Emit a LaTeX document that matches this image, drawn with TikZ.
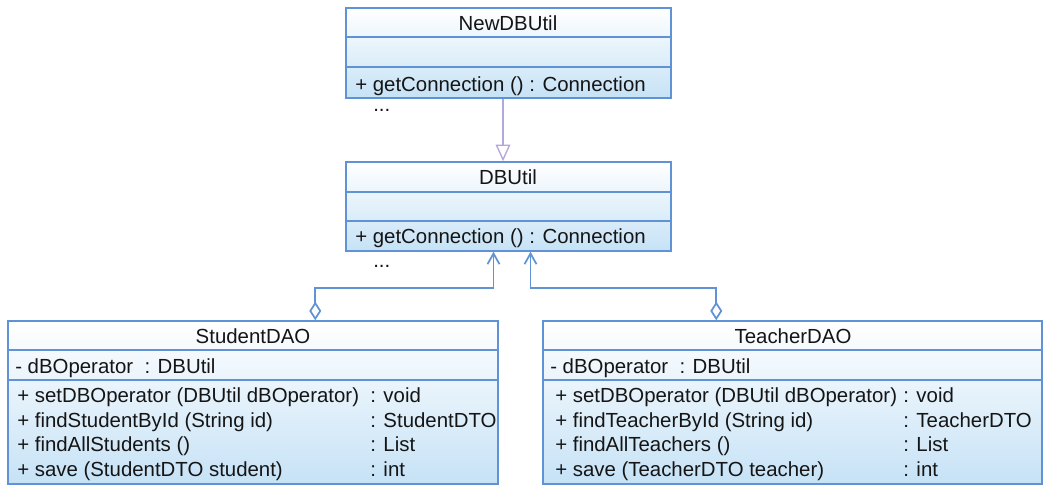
\documentclass[tikz,border=0pt]{standalone}
\usepackage{fontspec}
\setmainfont{Liberation Sans}
\usetikzlibrary{arrows.meta, positioning, fit, calc}
\definecolor{umlEdge}{HTML}{5F93D6}
\definecolor{umlFill}{HTML}{C6E2F6}
\definecolor{umlGen}{HTML}{B3A7DE}
\definecolor{umlInk}{HTML}{151515}

\begin{document}
\begin{tikzpicture}[
  x=0.75pt, y=-0.75pt,
  font=\fontsize{15.3}{18}\selectfont,
  cls/.style={draw=umlEdge, line width=1.1pt, top color=white, bottom color=umlFill, inner sep=0pt},
  divider/.style={draw=umlEdge, line width=1.1pt},
  ttl/.style={text=umlInk, inner sep=0pt, anchor=base},
  mem/.style={text=umlInk, inner sep=0pt, anchor=base west},
  gen/.style={draw=umlGen, line width=1pt, -{Triangle[open, fill=white, length=12.5pt, width=11pt]}},
  agg/.style={draw=umlEdge, line width=1.3pt,
    {Diamond[open, fill=white, length=14pt, width=9pt]}-{Straight Barb[length=8pt, width=9pt]}},
]
\fill[white] (0,0) rectangle (1056,492);
\useasboundingbox (0,0) rectangle (1056,492);

% ============================== NewDBUtil ====================================
\node[cls, fit={(346,8) (671,98)}] (newdb) {};
\draw[divider] (346,37) -- (671,37);
\draw[divider] (346,67) -- (671,67);
\node[ttl] (newdbname) at (508,31) {NewDBUtil};
\node[mem] (newdbop) at (355,91) {+ getConnection () : Connection};
\node[mem] (newdbmore) at (373,112) {...};

% =============================== DBUtil ======================================
\node[cls, fit={(346,162) (671,251)}] (dbutil) {};
\draw[divider] (346,192) -- (671,192);
\draw[divider] (346,221) -- (671,221);
\node[ttl] (dbutilname) at (508,184) {DBUtil};
\node[mem] (dbutilop) at (355,243) {+ getConnection () : Connection};
\node[mem] (dbutilmore) at (373,267) {...};

% ============================= StudentDAO ====================================
\node[cls, fit={(8,321) (498,484)}] (student) {};
\draw[divider] (8,350) -- (498,350);
\draw[divider] (8,380) -- (498,380);
\node[ttl] (studentname) at (253,343) {StudentDAO};
\node[mem] (studentattr) at (15,373) {- dBOperator\ \ : DBUtil};
\foreach \yy/\op/\ret [count=\i] in {402/{setDBOperator (DBUtil dBOperator)}/void,
    427/{findStudentById (String id)}/StudentDTO, 451/{findAllStudents ()}/List,
    476/{save (StudentDTO student)}/int} {
  \node[mem] (sdop\i) at (17,\yy) {+ \op};
  \node[mem] (sdret\i) at (370,\yy) {: \ret};
}

% ============================= TeacherDAO ====================================
\node[cls, fit={(543,321) (1042,484)}] (teacher) {};
\draw[divider] (543,350) -- (1042,350);
\draw[divider] (543,380) -- (1042,380);
\node[ttl] (teachername) at (793,343) {TeacherDAO};
\node[mem] (teacherattr) at (550,373) {- dBOperator\ \ : DBUtil};
\foreach \yy/\op/\ret [count=\i] in {402/{setDBOperator (DBUtil dBOperator)}/void,
    427/{findTeacherById (String id)}/TeacherDTO, 451/{findAllTeachers ()}/List,
    476/{save (TeacherDTO teacher)}/int} {
  \node[mem] (tdop\i) at (555,\yy) {+ \op};
  \node[mem] (tdret\i) at (903,\yy) {: \ret};
}

% ============================= relations =====================================
% DBUtil specialises NewDBUtil; both DAOs hold a DBUtil.
\draw[gen] ($(newdb.south)+(-5.5,0)$) -- ($(dbutil.north)+(-5.5,0)$);
\draw[agg] ($(student.north west)+(308,0)$) -- ++(0,-32) -| ($(dbutil.south)+(-15,0)$);
\draw[agg] ($(teacher.north west)+(174,0)$) -- ++(0,-32) -| ($(dbutil.south)+(22,0)$);
\end{tikzpicture}
\end{document}
